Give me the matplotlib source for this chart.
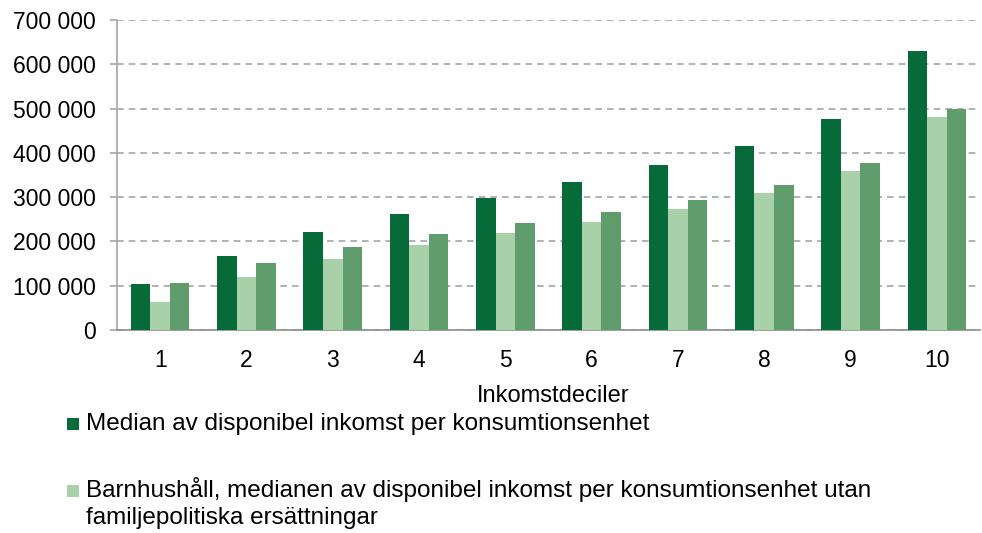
import matplotlib
matplotlib.use("Agg")
import matplotlib.pyplot as plt
from matplotlib.patches import Rectangle
from matplotlib.ticker import FuncFormatter, MultipleLocator
import numpy as np

plt.rcParams['font.family'] = ['Liberation Sans', 'DejaVu Sans']

categories = ["1", "2", "3", "4", "5", "6", "7", "8", "9", "10"]
median_all = [104000, 167000, 221000, 263000, 299000, 334000, 373000, 415000, 476000, 631000]
barn_utan = [64000, 119000, 160000, 191000, 218000, 245000, 274000, 309000, 359000, 482000]
barn_med = [106000, 151000, 187000, 216000, 241000, 266000, 294000, 327000, 376000, 499000]
series = [median_all, barn_utan, barn_med]
labels = ["Median av disponibel inkomst per konsumtionsenhet",
          "Barnhushåll, medianen av disponibel inkomst per konsumtionsenhet utan\nfamiljepolitiska ersättningar",
          "Barnhushåll, medianen av disponibel inkomst per konsumtionsenhet"]
colors = ["#066b38", "#a8d1a9", "#5f9e6c"]
xlabel = "Inkomstdeciler"

W, H = 982, 533
fig = plt.figure(figsize=(W / 100, H / 100), dpi=100)
ax = fig.add_axes([117 / W, 1 - 330 / H, 863 / W, 310 / H])

x = np.arange(len(categories))
w = 0.226
for k, (vals, col) in enumerate(zip(series, colors)):
    ax.bar(x + (k - 1) * w, vals, width=w, color=col, edgecolor='none', zorder=3)

ax.set_xlim(-0.5, len(categories) - 0.5)
ax.set_ylim(0, 700000)
ax.yaxis.set_major_locator(MultipleLocator(100000))
ax.yaxis.set_major_formatter(FuncFormatter(lambda v, p: f"{int(v):,}".replace(",", " ")))
ax.set_xticks(x)
ax.set_xticklabels(categories)

ax.grid(axis='y', color='#a6a6a6', linestyle=(0, (4, 3)), linewidth=1.2, zorder=0)
for s in ['top', 'right']:
    ax.spines[s].set_visible(False)
ax.spines['left'].set_color('#a6a6a6')
ax.spines['left'].set_linewidth(1.2)
ax.spines['bottom'].set_color('#8c8c8c')
ax.spines['bottom'].set_linewidth(1.2)

ax.tick_params(axis='y', length=5, width=1.2, color='#a6a6a6', labelsize=16.5, pad=10, labelcolor='black')
ax.tick_params(axis='x', length=0, labelsize=16.5, pad=14, labelcolor='black')

ax.set_xlabel(xlabel, fontsize=17)
ax.xaxis.label.set_va('baseline')
ax.xaxis.set_label_coords(0.505, -71.7 / 310)

# legend (only first two entries visible in the reference)
leg_y = [430, 497]
line_gap = 26.6
for lab, col, by in zip(labels[:2], colors[:2], leg_y):
    fig.patches.append(Rectangle((67 / W, 1 - by / H), 12 / W, 12 / H,
                                 transform=fig.transFigure, facecolor=col, edgecolor='none'))
    for j, line in enumerate(lab.split("\n")):
        fig.text(86 / W, 1 - (by + j * line_gap) / H, line, fontsize=17.5,
                 va='baseline', ha='left')

fig.savefig("out.png", dpi=100)
